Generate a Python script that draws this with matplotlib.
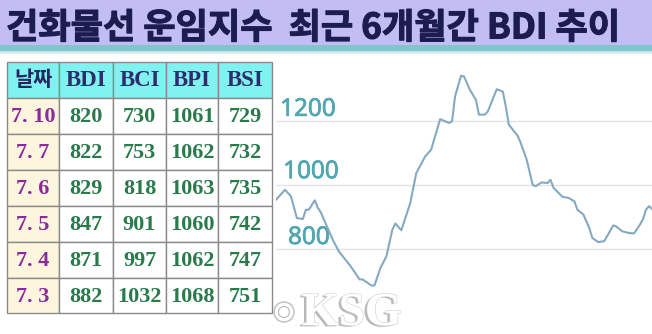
import matplotlib
matplotlib.use("Agg")
import matplotlib.pyplot as plt
from matplotlib.patches import Rectangle
import matplotlib.patheffects as pe
import numpy as np

# ---------------- data ----------------
title = "건화물선 운임지수  최근 6개월간 BDI 추이"
table_header = ["날짜", "BDI", "BCI", "BPI", "BSI"]
dates = ["7. 10", "7. 7", "7. 6", "7. 5", "7. 4", "7. 3"]
bdi = [820, 822, 829, 847, 871, 882]
bci = [730, 753, 818, 901, 997, 1032]
bpi = [1061, 1062, 1063, 1060, 1062, 1068]
bsi = [729, 732, 735, 742, 747, 751]

days = [0, 3, 5, 7, 9, 10, 11, 13, 14, 15, 19, 21, 25, 28, 29, 32, 33, 35, 37, 39,
        40, 42, 45, 47, 50, 52, 55, 58, 59, 60, 62, 63, 65, 67, 68, 70, 71, 73, 74,
        76, 77, 78, 81, 82, 84, 86, 87, 89, 91, 92, 93, 96, 98, 100, 101, 103, 105,
        106, 108, 110, 113, 114, 116, 118, 120, 122, 123, 124, 125, 126]
bdi_trend = [954, 985, 965, 897, 894, 923, 923, 952, 929, 915, 830, 794, 747, 706,
             706, 687, 687, 742, 778, 861, 880, 859, 944, 1037, 1089, 1110, 1205,
             1193, 1198, 1276, 1340, 1338, 1296, 1265, 1219, 1219, 1229, 1276, 1298,
             1291, 1245, 1188, 1153, 1131, 1079, 1001, 996, 1008, 1006, 1016, 991,
             963, 960, 949, 923, 908, 866, 835, 822, 825, 874, 871, 856, 851, 849,
             877, 894, 923, 934, 925]
grid_levels = [800, 1000, 1200]
grid_labels = ["800", "1000", "1200"]
watermark = "KSG"

# ---------------- figure ----------------
W, H = 652, 334
fig = plt.figure(figsize=(W / 100, H / 100), dpi=100)
fig.patch.set_facecolor("white")

bg = fig.add_axes([0, 0, 1, 1])
bg.set_xlim(0, W)
bg.set_ylim(H, 0)
bg.axis("off")

# title band
bg.add_patch(Rectangle((0, 0), W, 45, color="#c2bdf2", lw=0))
bg.add_patch(Rectangle((0, 45), W, 6, color="#80c6cc", lw=0))
for i, a in enumerate(np.linspace(0.5, 0.05, 4)):
    bg.add_patch(Rectangle((0, 51 + i), W, 1, color="#80c6cc", alpha=a, lw=0))
bg.text(6, 28, title, fontsize=25.3, fontweight="bold", color="#1c1c4e",
        family=["Noto Sans CJK KR", "DejaVu Sans"], va="center", ha="left",
        path_effects=[pe.Stroke(linewidth=0.8, foreground="#1c1c4e"), pe.Normal()])

# table
col_edges = [7, 59, 113, 166, 218, 272]
row_edges = [62, 98, 134, 170, 206, 242, 278, 313]
grid_c = "#8a8a8a"
for j in range(5):
    x0, x1 = col_edges[j], col_edges[j + 1]
    bg.add_patch(Rectangle((x0, row_edges[0]), x1 - x0, row_edges[1] - row_edges[0],
                           facecolor="#80f2f0", edgecolor=grid_c, lw=1))
    cx = (x0 + x1) / 2
    cy = (row_edges[0] + row_edges[1]) / 2
    if j == 0:
        bg.text(cx, cy, table_header[j], fontsize=15, fontweight="bold", color="#262660",
                family=["Noto Sans CJK KR"], ha="center", va="center")
    else:
        bg.text(cx, cy + 1, table_header[j], fontsize=16.5, fontweight="bold", color="#2d2d6e",
                family=["Liberation Serif"], ha="center", va="center")

cols = [dates, bdi, bci, bpi, bsi]
for i in range(len(dates)):
    y0, y1 = row_edges[i + 1], row_edges[i + 2]
    cy = (y0 + y1) / 2 + 1
    for j in range(5):
        x0, x1 = col_edges[j], col_edges[j + 1]
        fc = "#fdf5dd" if j == 0 else "white"
        bg.add_patch(Rectangle((x0, y0), x1 - x0, y1 - y0, facecolor=fc,
                               edgecolor=grid_c, lw=1))
        cx = (x0 + x1) / 2
        if j == 0:
            bg.text(cx, cy, dates[i], fontsize=16, fontweight="bold", color="#8a2c98",
                    family=["Liberation Serif"], ha="center", va="center")
        else:
            bg.text(cx, cy, str(cols[j][i]), fontsize=16, fontweight="bold",
                    color="#2a7a4c", family=["Liberation Serif"], ha="center", va="center")

# ---------------- chart ----------------
ax = fig.add_axes([276 / W, 0, (W - 276) / W, (H - 52) / H])
ax.patch.set_alpha(0)
ax.set_xlim(0, 126)
ax.set_ylim(536, 1414)
for s in ax.spines.values():
    s.set_visible(False)
ax.set_xticks([])
ax.set_yticks([])
for lv in grid_levels:
    ax.axhline(lv, color="#e4e4e4", lw=1, zorder=1)
label_x = [0.032, 0.019, 0.011]
label_off = [35, 40, 34]
for lv, lab, lx, off in zip(grid_levels, grid_labels, label_x, label_off):
    ax.text(lx, lv + off, lab, transform=ax.get_yaxis_transform(), fontsize=17.5,
            color="#52a6b0", family=["Open Sans"], ha="left", va="center", zorder=2,
            path_effects=[pe.Stroke(linewidth=0.6, foreground="#52a6b0"), pe.Normal()])
ax.plot(days, bdi_trend, color="#86a9c2", lw=1.5, zorder=3, solid_joinstyle="round")

# watermark
bg.text(302, 325, watermark, fontsize=34, fontweight="bold", color="white",
        family=["Liberation Serif"], ha="left", va="baseline", zorder=5,
        path_effects=[pe.withSimplePatchShadow(offset=(-2, -1), shadow_rgbFace="#9a9a9a", alpha=0.7),
                      pe.Stroke(linewidth=1, foreground="#d8d8d8"), pe.Normal()])
bg.add_patch(plt.Circle((284, 312), 10, facecolor="white", edgecolor="#c8c8c8", lw=1.2, zorder=5))
bg.add_patch(plt.Circle((284, 312), 5.5, facecolor="none", edgecolor="#b8b8b8", lw=0.8, zorder=5))

fig.savefig("out.png", dpi=100)
